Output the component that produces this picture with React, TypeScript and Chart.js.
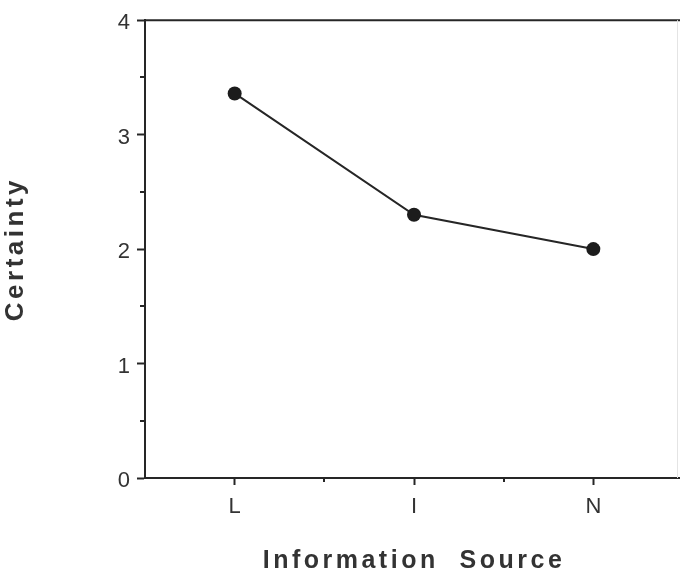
import React, { useEffect, useRef } from "react";
import { Chart, registerables } from "chart.js";

Chart.register(...registerables);

// ---- data ----
const categories: string[] = ["L", "I", "N"];
const categoryPositions: number[] = [1, 2, 3];
const certainty: number[] = [3.36, 2.3, 2.0];
const yMajorTicks: number[] = [0, 1, 2, 3, 4];
const yMinorTicks: number[] = [0.5, 1.5, 2.5, 3.5];
const xMinorTicks: number[] = [1.5, 2.5];
const xTitle = "Information  Source";
const yTitle = "Certainty";

const INK = "#262626";
const TEXT = "#333333";
const FONT = "'Liberation Sans', Arial, Helvetica, sans-serif";

const framePlugin = {
  id: "frame",
  beforeDraw(chart: any) {
    try { chart.ctx.letterSpacing = "3.5px"; } catch (e) {}
  },
  beforeDatasetsDraw(chart: any) {
    try { chart.ctx.letterSpacing = "0px"; } catch (e) {}
  },
  afterDraw(chart: any) {
    const { ctx, chartArea } = chart;
    const xs = chart.scales.x;
    const ys = chart.scales.y;
    ctx.save();
    ctx.strokeStyle = INK;
    ctx.lineWidth = 2;
    // top frame line
    ctx.beginPath();
    ctx.moveTo(chartArea.left, chartArea.top);
    ctx.lineTo(chartArea.right, chartArea.top);
    ctx.stroke();
    // minor y ticks
    ctx.beginPath();
    for (const v of yMinorTicks) {
      const py = Math.round(ys.getPixelForValue(v));
      ctx.moveTo(chartArea.left - 5, py);
      ctx.lineTo(chartArea.left, py);
    }
    // minor x ticks
    for (const v of xMinorTicks) {
      const px = Math.round(xs.getPixelForValue(v));
      ctx.moveTo(px, chartArea.bottom);
      ctx.lineTo(px, chartArea.bottom + 4);
    }
    ctx.stroke();
    // faint right edge
    ctx.strokeStyle = "#e4e4e4";
    ctx.lineWidth = 1;
    ctx.beginPath();
    ctx.moveTo(677.5, chartArea.top);
    ctx.lineTo(677.5, chartArea.bottom);
    ctx.stroke();
    ctx.restore();
  },
};

export default function App() {
  const ref = useRef<HTMLCanvasElement | null>(null);

  useEffect(() => {
    if (!ref.current) return;
    const chart = new Chart(ref.current, {
      type: "line",
      data: {
        datasets: [
          {
            label: yTitle,
            data: categoryPositions.map((x, i) => ({ x, y: certainty[i] })),
            borderColor: INK,
            borderWidth: 2,
            backgroundColor: "#1c1c1c",
            pointBackgroundColor: "#1c1c1c",
            pointBorderWidth: 0,
            pointRadius: 7,
            tension: 0,
            fill: false,
          },
        ],
      },
      plugins: [framePlugin],
      options: {
        responsive: false,
        animation: false,
        events: [],
        layout: { padding: { top: 18, right: 9, left: 0, bottom: 0 } },
        plugins: {
          legend: { display: false },
          tooltip: { enabled: false },
        },
        scales: {
          x: {
            type: "linear",
            min: 0.5,
            max: 3.5,
            afterFit: (s: any) => { s.height = 96; },
            afterBuildTicks: (s: any) => {
              s.ticks = [0.5, ...categoryPositions, 3.5].map((v) => ({ value: v }));
            },
            border: { display: true, color: INK, width: 2 },
            grid: {
              display: true,
              drawOnChartArea: false,
              drawTicks: true,
              tickLength: 7,
              tickWidth: 2,
              tickColor: (c: any) =>
                c.tick && categoryPositions.includes(c.tick.value) ? INK : "rgba(0,0,0,0)",
            },
            ticks: {
              z: 1,
              padding: 9,
              autoSkip: false,
              maxRotation: 0,
              color: TEXT,
              font: { family: FONT, size: 22 },
              callback: (v: any) => {
                const i = categoryPositions.indexOf(Number(v));
                return i >= 0 ? categories[i] : "";
              },
            },
            title: {
              display: true,
              text: xTitle,
              color: TEXT,
              font: { family: FONT, size: 25, weight: "bold", lineHeight: 1.0 },
              padding: { top: 0, bottom: 0 },
            },
          },
          y: {
            type: "linear",
            min: 0,
            max: 4,
            afterFit: (s: any) => { s.width = 145; },
            afterBuildTicks: (s: any) => {
              s.ticks = yMajorTicks.map((v) => ({ value: v }));
            },
            border: { display: true, color: INK, width: 2 },
            grid: {
              display: true,
              drawOnChartArea: false,
              drawTicks: true,
              tickLength: 8,
              tickWidth: 2,
              tickColor: INK,
            },
            ticks: {
              z: 1,
              padding: 7,
              labelOffset: 3,
              color: TEXT,
              font: { family: FONT, size: 22 },
              callback: (v: any) => String(v),
            },
            title: {
              display: true,
              text: yTitle,
              color: TEXT,
              font: { family: FONT, size: 26, weight: "bold" },
              padding: { top: 0, bottom: 0 },
            },
          },
        },
      },
    });
    return () => chart.destroy();
  }, []);

  return (
    <div
      style={{
        position: "fixed",
        left: 0,
        top: 0,
        width: 680,
        height: 574,
        overflow: "hidden",
        background: "#fff",
      }}
    >
      <canvas ref={ref} width={692} height={574} style={{ display: "block" }} />
    </div>
  );
}
